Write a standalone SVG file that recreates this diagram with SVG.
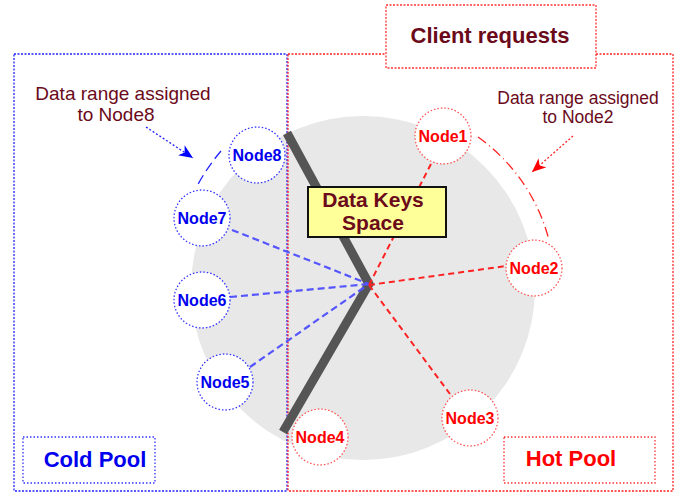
<svg xmlns="http://www.w3.org/2000/svg" width="681" height="494" viewBox="0 0 681 494">
<defs>
<style>
.lbl{font-family:"Liberation Sans",Arial,sans-serif;fill:#6a0a1a}
.b{font-weight:bold}
.nb{fill:#fff;stroke:#3333ff;stroke-width:1.3;stroke-dasharray:1.5 2}
.nr{fill:#fff;stroke:#ff5555;stroke-width:1.3;stroke-dasharray:1.5 2}
.tb{font-family:"Liberation Sans",Arial,sans-serif;font-weight:bold;font-size:16px;fill:#0000ee;text-anchor:middle}
.tr{font-family:"Liberation Sans",Arial,sans-serif;font-weight:bold;font-size:16px;fill:#ff0000;text-anchor:middle}
.cb{stroke:#5555ff;stroke-width:2.2;stroke-dasharray:7 4;fill:none}
.cr{stroke:#ff2222;stroke-width:2;stroke-dasharray:6 4;fill:none}
</style>
<marker id="ab" viewBox="0 0 14 12" refX="14" refY="6" markerWidth="14" markerHeight="12" orient="auto" markerUnits="userSpaceOnUse">
<path d="M0,0 L14,6 L0,12 L4,6 z" fill="#0000ff"/>
</marker>
<marker id="ar" viewBox="0 0 14 12" refX="14" refY="6" markerWidth="14" markerHeight="12" orient="auto" markerUnits="userSpaceOnUse">
<path d="M0,0 L14,6 L0,12 L4,6 z" fill="#ff0000"/>
</marker>
</defs>
<rect width="681" height="494" fill="#fff"/>
<circle cx="363" cy="288" r="172" fill="#e8e8e8"/>
<g id="cold-pool-area">
<rect x="14" y="54" width="273" height="437" fill="none" stroke="#2222ff" stroke-width="1.3" stroke-dasharray="2 1.5"/>
</g>
<g id="hot-pool-area">
<rect x="288" y="54" width="385" height="437" fill="none" stroke="#ff2222" stroke-width="1.3" stroke-dasharray="2 1.5"/>
</g>
<g id="client-requests">
<rect x="386" y="5" width="210" height="63" fill="#fff" stroke="#ff3333" stroke-width="1.3" stroke-dasharray="2 1.5"/>
<text x="490" y="43" class="lbl b" font-size="22" text-anchor="middle">Client requests</text>
</g>
<g id="keyspace-line">
<polyline points="287,133 369,284 283,432" fill="none" stroke="#555" stroke-width="9" stroke-linejoin="miter"/>
</g>
<g id="connectors">
<line x1="232" y1="230" x2="369" y2="284" class="cb"/>
<line x1="230" y1="297" x2="369" y2="284" class="cb"/>
<line x1="250" y1="367" x2="369" y2="284" class="cb"/>
<line x1="369" y1="285" x2="432" y2="162" class="cr"/>
<line x1="369" y1="285" x2="506" y2="266" class="cr"/>
<line x1="369" y1="285" x2="450" y2="394" class="cr"/>
<path d="M221,151 A200,200 0 0 0 196,188" stroke="#2222ff" stroke-width="1.3" stroke-dasharray="10 5" fill="none"/>
<path d="M478,137 A183,183 0 0 1 549,240" stroke="#ff2222" stroke-width="1.3" stroke-dasharray="10 4 1 4" fill="none"/>
<line x1="146" y1="127" x2="193" y2="158" stroke="#2222ff" stroke-width="1.3" stroke-dasharray="2 2" marker-end="url(#ab)"/>
<line x1="573" y1="136" x2="532" y2="172" stroke="#ff2222" stroke-width="1.3" stroke-dasharray="2 2" marker-end="url(#ar)"/>
</g>
<g id="data-keys-space">
<rect x="308" y="187" width="138" height="50" fill="#ffff99" stroke="#111" stroke-width="2"/>
<text x="373" y="207" class="lbl b" font-size="21" text-anchor="middle">Data Keys</text>
<text x="373" y="230" class="lbl b" font-size="21" text-anchor="middle">Space</text>
</g>
<g id="label-node8-range">
<text x="123" y="100" class="lbl" font-size="19" text-anchor="middle">Data range assigned</text>
<text x="116" y="121" class="lbl" font-size="19" text-anchor="middle">to Node8</text>
</g>
<g id="label-node2-range">
<text x="578" y="104" class="lbl" font-size="17.5" text-anchor="middle">Data range assigned</text>
<text x="578" y="123" class="lbl" font-size="17.5" text-anchor="middle">to Node2</text>
</g>
<g id="node1"><circle cx="443" cy="136" r="28" class="nr"/><text x="443" y="142" class="tr">Node1</text></g>
<g id="node2"><circle cx="534" cy="268" r="28" class="nr"/><text x="534" y="274" class="tr">Node2</text></g>
<g id="node3"><circle cx="470" cy="418" r="28" class="nr"/><text x="470" y="424" class="tr">Node3</text></g>
<g id="node4"><circle cx="320" cy="437" r="28" class="nr"/><text x="320" y="443" class="tr">Node4</text></g>
<g id="node5"><circle cx="225" cy="382" r="28" class="nb"/><text x="225" y="388" class="tb">Node5</text></g>
<g id="node6"><circle cx="202" cy="300" r="28" class="nb"/><text x="202" y="306" class="tb">Node6</text></g>
<g id="node7"><circle cx="202" cy="218" r="28" class="nb"/><text x="202" y="224" class="tb">Node7</text></g>
<g id="node8"><circle cx="257" cy="155" r="28" class="nb"/><text x="257" y="161" class="tb">Node8</text></g>
<g id="cold-pool">
<rect x="23" y="437" width="132" height="46" fill="#fff" stroke="#3333ff" stroke-width="1.3" stroke-dasharray="1.5 2"/>
<text x="95" y="467" font-family="Liberation Sans,Arial,sans-serif" font-weight="bold" font-size="22" fill="#0000ee" text-anchor="middle">Cold Pool</text>
</g>
<g id="hot-pool">
<rect x="504" y="437" width="151" height="46" fill="#fff" stroke="#ff3333" stroke-width="1.3" stroke-dasharray="1.5 2"/>
<text x="571" y="466" font-family="Liberation Sans,Arial,sans-serif" font-weight="bold" font-size="22" fill="#ff0000" text-anchor="middle">Hot Pool</text>
</g>
</svg>
